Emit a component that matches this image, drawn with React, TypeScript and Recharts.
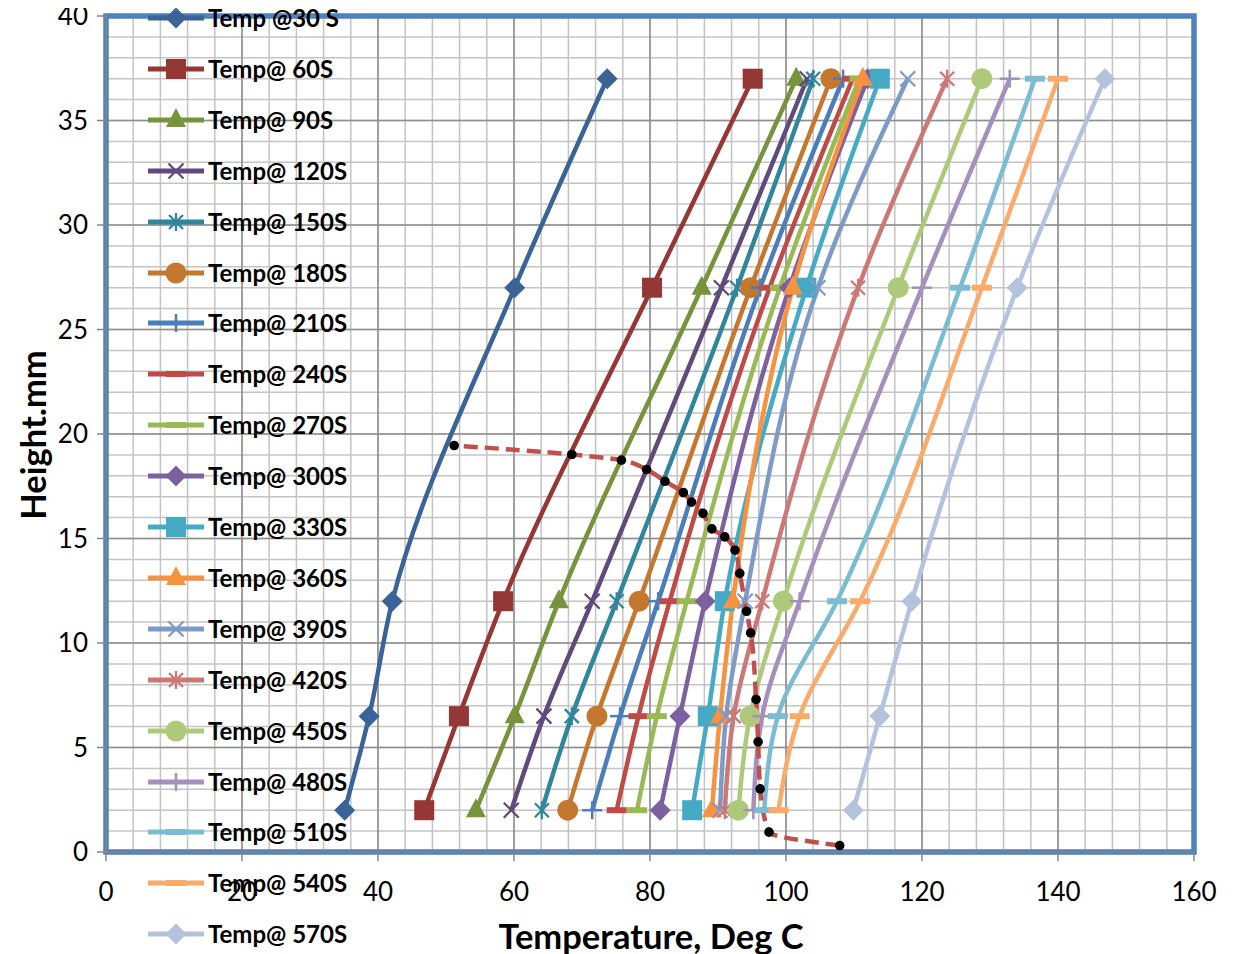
import React from 'react';
import { LineChart, Line, XAxis, YAxis, CartesianGrid, ReferenceArea } from 'recharts';

// ---------- data ----------
const heights = [2, 6.5, 12, 27, 37];

const seriesNames = [
  'Temp @30 S', 'Temp@ 60S', 'Temp@ 90S', 'Temp@ 120S', 'Temp@ 150S', 'Temp@ 180S',
  'Temp@ 210S', 'Temp@ 240S', 'Temp@ 270S', 'Temp@ 300S', 'Temp@ 330S', 'Temp@ 360S',
  'Temp@ 390S', 'Temp@ 420S', 'Temp@ 450S', 'Temp@ 480S', 'Temp@ 510S', 'Temp@ 540S',
  'Temp@ 570S',
];

const t30 = [35.1, 38.7, 42.1, 60.1, 73.7];
const t60 = [46.8, 51.9, 58.4, 80.3, 95.1];
const t90 = [54.4, 60.1, 66.6, 87.6, 101.5];
const t120 = [59.6, 64.4, 71.5, 90.5, 103.1];
const t150 = [64.1, 68.5, 75.1, 92.8, 104.0];
const t180 = [67.9, 72.2, 78.4, 94.8, 106.6];
const t210 = [71.5, 75.6, 81.2, 96.2, 108.4];
const t240 = [75.1, 78.3, 82.9, 97.6, 109.8];
const t270 = [78.1, 81.0, 85.4, 99.1, 110.8];
const t300 = [81.5, 84.4, 88.1, 100.5, 112.0];
const t330 = [86.2, 88.5, 91.0, 103.0, 113.8];
const t360 = [89.1, 90.3, 92.2, 101.0, 111.3];
const t390 = [90.3, 91.2, 94.0, 104.7, 117.9];
const t420 = [91.0, 92.3, 96.5, 110.6, 123.7];
const t450 = [93.0, 94.7, 99.6, 116.5, 128.8];
const t480 = [95.2, 96.5, 102.0, 120.0, 132.9];
const t510 = [96.8, 98.8, 107.5, 125.6, 136.6];
const t540 = [98.9, 102.0, 110.9, 128.8, 140.0];
const t570 = [109.9, 113.8, 118.5, 134.0, 146.9];

const seriesTemps = [
  t30, t60, t90, t120, t150, t180, t210, t240, t270, t300,
  t330, t360, t390, t420, t450, t480, t510, t540, t570,
];

const seriesColors = [
  '#3A6398', '#953735', '#77933C', '#604A7B', '#31859C', '#C6772F',
  '#4A7EBB', '#BE4B48', '#98B954', '#7D60A0', '#46AAC5', '#F69240',
  '#7E9BC8', '#CB7876', '#AFC97A', '#A390BC', '#7CBCD3', '#F9AB6B',
  '#B3C3DD',
];

const seriesShapes = [
  'diamond', 'square', 'triangle', 'x', 'star', 'circle',
  'plus', 'dash', 'dash', 'diamond', 'square', 'triangle',
  'x', 'star', 'circle', 'plus', 'dash', 'dash',
  'diamond',
];

const boundaryTemps = [107.9, 97.5, 96.2, 95.9, 95.6, 94.8, 94.2, 93.2, 92.5, 91.0, 89.1, 87.8, 86.1, 84.9, 82.2, 79.5, 75.8, 68.5, 51.2];
const boundaryHeights = [0.31, 0.95, 3.02, 5.27, 7.3, 10.48, 11.52, 13.33, 14.44, 15.08, 15.46, 16.2, 16.74, 17.2, 17.74, 18.3, 18.75, 19.02, 19.45];

const xTicks = [0, 20, 40, 60, 80, 100, 120, 140, 160];
const yTicks = [0, 5, 10, 15, 20, 25, 30, 35, 40];
const xMinor = Array.from({ length: 41 }, (_, i) => i * 4);
const yMinor = Array.from({ length: 41 }, (_, i) => i);

// ---------- helpers ----------
const FONT = 'Lato, "Open Sans", sans-serif';

function Marker({ shape, color, cx, cy }: { shape: string; color: string; cx: number; cy: number }) {
  switch (shape) {
    case 'diamond':
      return <polygon points={`${cx},${cy - 10.5} ${cx + 10.5},${cy} ${cx},${cy + 10.5} ${cx - 10.5},${cy}`} fill={color} />;
    case 'square':
      return <rect x={cx - 10} y={cy - 10} width={20} height={20} fill={color} />;
    case 'triangle':
      return <polygon points={`${cx},${cy - 12} ${cx + 10},${cy + 7} ${cx - 10},${cy + 7}`} fill={color} />;
    case 'x':
      return (
        <g stroke={color} strokeWidth={2.3}>
          <line x1={cx - 7.5} y1={cy - 7.5} x2={cx + 7.5} y2={cy + 7.5} />
          <line x1={cx - 7.5} y1={cy + 7.5} x2={cx + 7.5} y2={cy - 7.5} />
        </g>
      );
    case 'star':
      return (
        <g stroke={color} strokeWidth={2.3}>
          <line x1={cx - 7} y1={cy - 7} x2={cx + 7} y2={cy + 7} />
          <line x1={cx - 7} y1={cy + 7} x2={cx + 7} y2={cy - 7} />
          <line x1={cx} y1={cy - 9} x2={cx} y2={cy + 9} />
        </g>
      );
    case 'circle':
      return <circle cx={cx} cy={cy} r={10.5} fill={color} />;
    case 'plus':
      return (
        <g stroke={color} strokeWidth={2.5}>
          <line x1={cx - 10} y1={cy} x2={cx + 10} y2={cy} />
          <line x1={cx} y1={cy - 9} x2={cx} y2={cy + 9} />
        </g>
      );
    case 'dash':
      return <rect x={cx - 10} y={cy - 3} width={20} height={6} fill={color} />;
    default:
      return null;
  }
}

const makeDot = (shape: string, color: string) => (props: any) => {
  const { cx, cy, index } = props;
  if (cx == null || cy == null) return <g key={`d-${index}`} />;
  return (
    <g key={`d-${index}`}>
      <Marker shape={shape} color={color} cx={cx} cy={cy} />
    </g>
  );
};

const blackDot = (props: any) => {
  const { cx, cy, index } = props;
  if (cx == null || cy == null) return <g key={`b-${index}`} />;
  return <circle key={`b-${index}`} cx={cx} cy={cy} r={4.8} fill="#000" />;
};

const seriesData = seriesTemps.map((temps) => temps.map((t, i) => ({ h: heights[i], t })));
const boundaryData = boundaryTemps.map((t, i) => ({ h: boundaryHeights[i], t }));

// container spans page x 8..1234, y 0..954
const W = 1226;
const H = 954;

export default function App() {
  return (
    <div style={{ position: 'relative', top: -8, width: W, height: H, fontFamily: FONT }}>
      <style>{`.recharts-surface, .recharts-wrapper { overflow: visible !important; }`}</style>
      <LineChart
        width={W}
        height={H}
        layout="vertical"
        margin={{ top: 16, right: 40, left: 38, bottom: 72 }}
      >
        <CartesianGrid
          horizontalValues={yMinor}
          verticalValues={xMinor}
          stroke="#C4C4C4"
          strokeWidth={1.5}
        />
        <CartesianGrid
          horizontalValues={yTicks}
          verticalValues={xTicks}
          stroke="#8E8E8E"
          strokeWidth={1.5}
        />
        <XAxis
          type="number"
          dataKey="t"
          domain={[0, 160]}
          ticks={xTicks}
          interval={0}
          height={30}
          tickSize={9}
          tickMargin={22}
          allowDataOverflow
          axisLine={{ stroke: '#868686', strokeWidth: 1.5 }}
          tickLine={{ stroke: '#868686', strokeWidth: 1.5 }}
          tick={{ fill: '#000', fontSize: 26, fontFamily: FONT }}
        />
        <YAxis
          type="number"
          dataKey="h"
          domain={[0, 40]}
          ticks={yTicks}
          interval={0}
          reversed
          width={60}
          tickSize={9}
          tickMargin={9}
          allowDataOverflow
          axisLine={{ stroke: '#868686', strokeWidth: 1.5 }}
          tickLine={{ stroke: '#868686', strokeWidth: 1.5 }}
          tick={{ fill: '#000', fontSize: 26, fontFamily: FONT }}
        />
        {seriesData.map((data, i) => (
          <Line
            key={seriesNames[i]}
            data={data}
            dataKey="t"
            name={seriesNames[i]}
            type="monotone"
            stroke={seriesColors[i]}
            strokeWidth={4.5}
            dot={makeDot(seriesShapes[i], seriesColors[i])}
            activeDot={false}
            isAnimationActive={false}
          />
        ))}
        <Line
          data={boundaryData}
          dataKey="t"
          name="boundary"
          type="monotone"
          stroke="#C0504D"
          strokeWidth={4.5}
          strokeDasharray="14 7"
          dot={blackDot}
          activeDot={false}
          isAnimationActive={false}
        />
        <ReferenceArea
          x1={0}
          x2={160}
          y1={0}
          y2={40}
          fill="none"
          fillOpacity={0}
          stroke="#4F81BD"
          strokeWidth={5.5}
          ifOverflow="visible"
        />
      </LineChart>

      {/* Legend overlay */}
      {seriesNames.map((name, i) => {
        const cy = 18 + 50.9 * i;
        return (
          <div
            key={name}
            style={{
              position: 'absolute',
              left: 138,
              top: cy - 16,
              height: 32,
              display: 'flex',
              alignItems: 'center',
              pointerEvents: 'none',
            }}
          >
            <svg width={60} height={32} style={{ display: 'block' }}>
              <line x1={2} y1={16} x2={58} y2={16} stroke={seriesColors[i]} strokeWidth={5} />
              <Marker shape={seriesShapes[i]} color={seriesColors[i]} cx={30} cy={16} />
            </svg>
            <span
              style={{
                marginLeft: 2,
                fontFamily: FONT,
                fontWeight: 700,
                fontSize: 24,
                lineHeight: '32px',
                color: '#000',
                whiteSpace: 'nowrap',
              }}
            >
              {name}
            </span>
          </div>
        );
      })}

      {/* Axis titles */}
      <div
        style={{
          position: 'absolute',
          left: 643 - 300,
          top: 936 - 20,
          width: 600,
          textAlign: 'center',
          fontFamily: FONT,
          fontWeight: 700,
          fontSize: 34.5,
          lineHeight: '40px',
          color: '#000',
          whiteSpace: 'nowrap',
        }}
      >
        Temperature, Deg C
      </div>
      <div
        style={{
          position: 'absolute',
          left: 25 - 150,
          top: 435 - 20,
          width: 300,
          height: 40,
          textAlign: 'center',
          fontFamily: FONT,
          fontWeight: 700,
          fontSize: 34.5,
          lineHeight: '40px',
          color: '#000',
          whiteSpace: 'nowrap',
          transform: 'rotate(-90deg)',
        }}
      >
        Height.mm
      </div>
    </div>
  );
}
